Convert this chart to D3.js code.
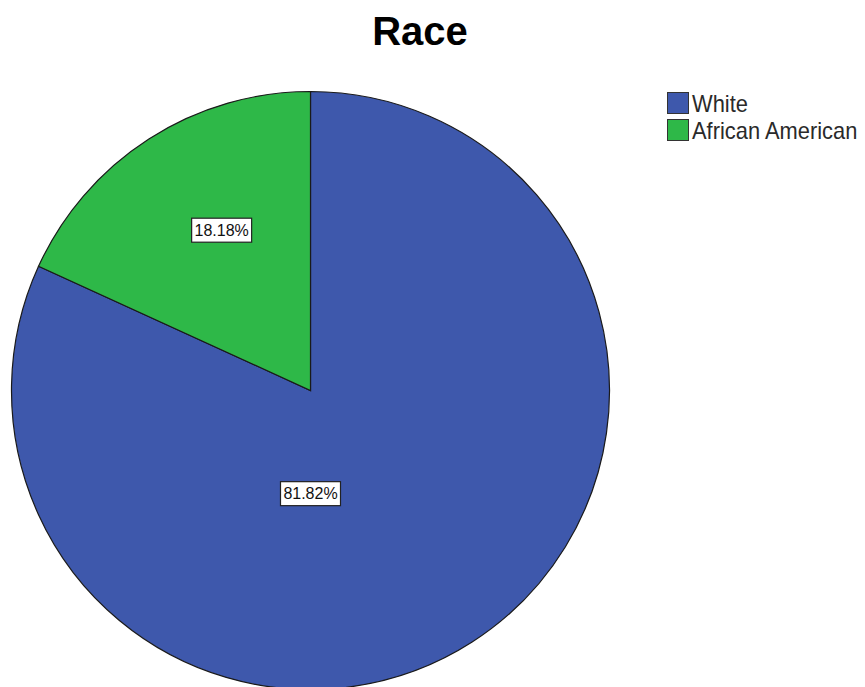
<!DOCTYPE html>
<html>
<head>
<meta charset="utf-8">
<script src="https://cdn.jsdelivr.net/npm/d3@7/dist/d3.min.js"></script>
<style>
  html, body { margin: 0; padding: 0; background: #ffffff; }
  svg { display: block; }
</style>
</head>
<body>
<div id="chart"></div>
<script>
// Race distribution
const categories = ["White", "African American"];
const percents = [81.82, 18.18];
const colors = ["#3E58AC", "#2EB848"];
const title = "Race";

const width = 865, height = 687;
const cx = 310.5, cy = 390.5, radius = 299;

// Where each percentage label sits: angle (degrees, clockwise from 12 o'clock)
// and distance as a fraction of the radius.
const labelPlacement = [
  { angle: 180, frac: 0.345 },
  { angle: -29, frac: 0.613 }
];

const data = categories.map((c, i) => ({ category: c, value: percents[i], color: colors[i] }));

const svg = d3.select("#chart").append("svg")
  .attr("width", width)
  .attr("height", height);

svg.append("text")
  .attr("x", 420)
  .attr("y", 45)
  .attr("text-anchor", "middle")
  .attr("font-family", "Liberation Sans, Arial, sans-serif")
  .attr("font-weight", "bold")
  .attr("font-size", 40)
  .attr("fill", "#000")
  .text(title);

const pie = d3.pie().sort(null).value(d => d.value);
const arc = d3.arc().innerRadius(0).outerRadius(radius);
const arcs = pie(data);

const g = svg.append("g").attr("transform", `translate(${cx},${cy})`);

g.selectAll("path.slice")
  .data(arcs)
  .join("path")
  .attr("class", "slice")
  .attr("d", arc)
  .attr("fill", d => d.data.color)
  .attr("stroke", "#1a1a1a")
  .attr("stroke-width", 1.2);

// Percentage labels in white boxes
const fmt = v => v.toFixed(2) + "%";
const labels = g.selectAll("g.lbl")
  .data(arcs)
  .join("g")
  .attr("class", "lbl")
  .attr("transform", (d, i) => {
    const p = labelPlacement[i];
    const a = p.angle * Math.PI / 180;
    const r = p.frac * radius;
    return `translate(${r * Math.sin(a)},${-r * Math.cos(a)})`;
  });

labels.append("rect")
  .attr("x", -30)
  .attr("y", -12)
  .attr("width", 60)
  .attr("height", 24)
  .attr("fill", "#fff")
  .attr("stroke", "#222")
  .attr("stroke-width", 1.2);

labels.append("text")
  .attr("text-anchor", "middle")
  .attr("dy", "0.36em")
  .attr("font-family", "Liberation Sans, Arial, sans-serif")
  .attr("font-size", 16)
  .attr("fill", "#111")
  .text(d => fmt(d.data.value));

// Legend
const legend = svg.append("g").attr("transform", "translate(667,92)");
const items = legend.selectAll("g.item")
  .data(data)
  .join("g")
  .attr("class", "item")
  .attr("transform", (d, i) => `translate(0,${i * 27})`);

items.append("rect")
  .attr("x", 0.5)
  .attr("y", 0.5)
  .attr("width", 21)
  .attr("height", 21)
  .attr("fill", d => d.color)
  .attr("stroke", "#333")
  .attr("stroke-width", 1);

// Legend text is set slightly condensed
items.append("text")
  .attr("transform", "translate(25,20) scale(0.935,1)")
  .attr("font-family", "Liberation Sans, Arial, sans-serif")
  .attr("font-size", 23.4)
  .attr("fill", "#2a2a2a")
  .text(d => d.category);
</script>
</body>
</html>
